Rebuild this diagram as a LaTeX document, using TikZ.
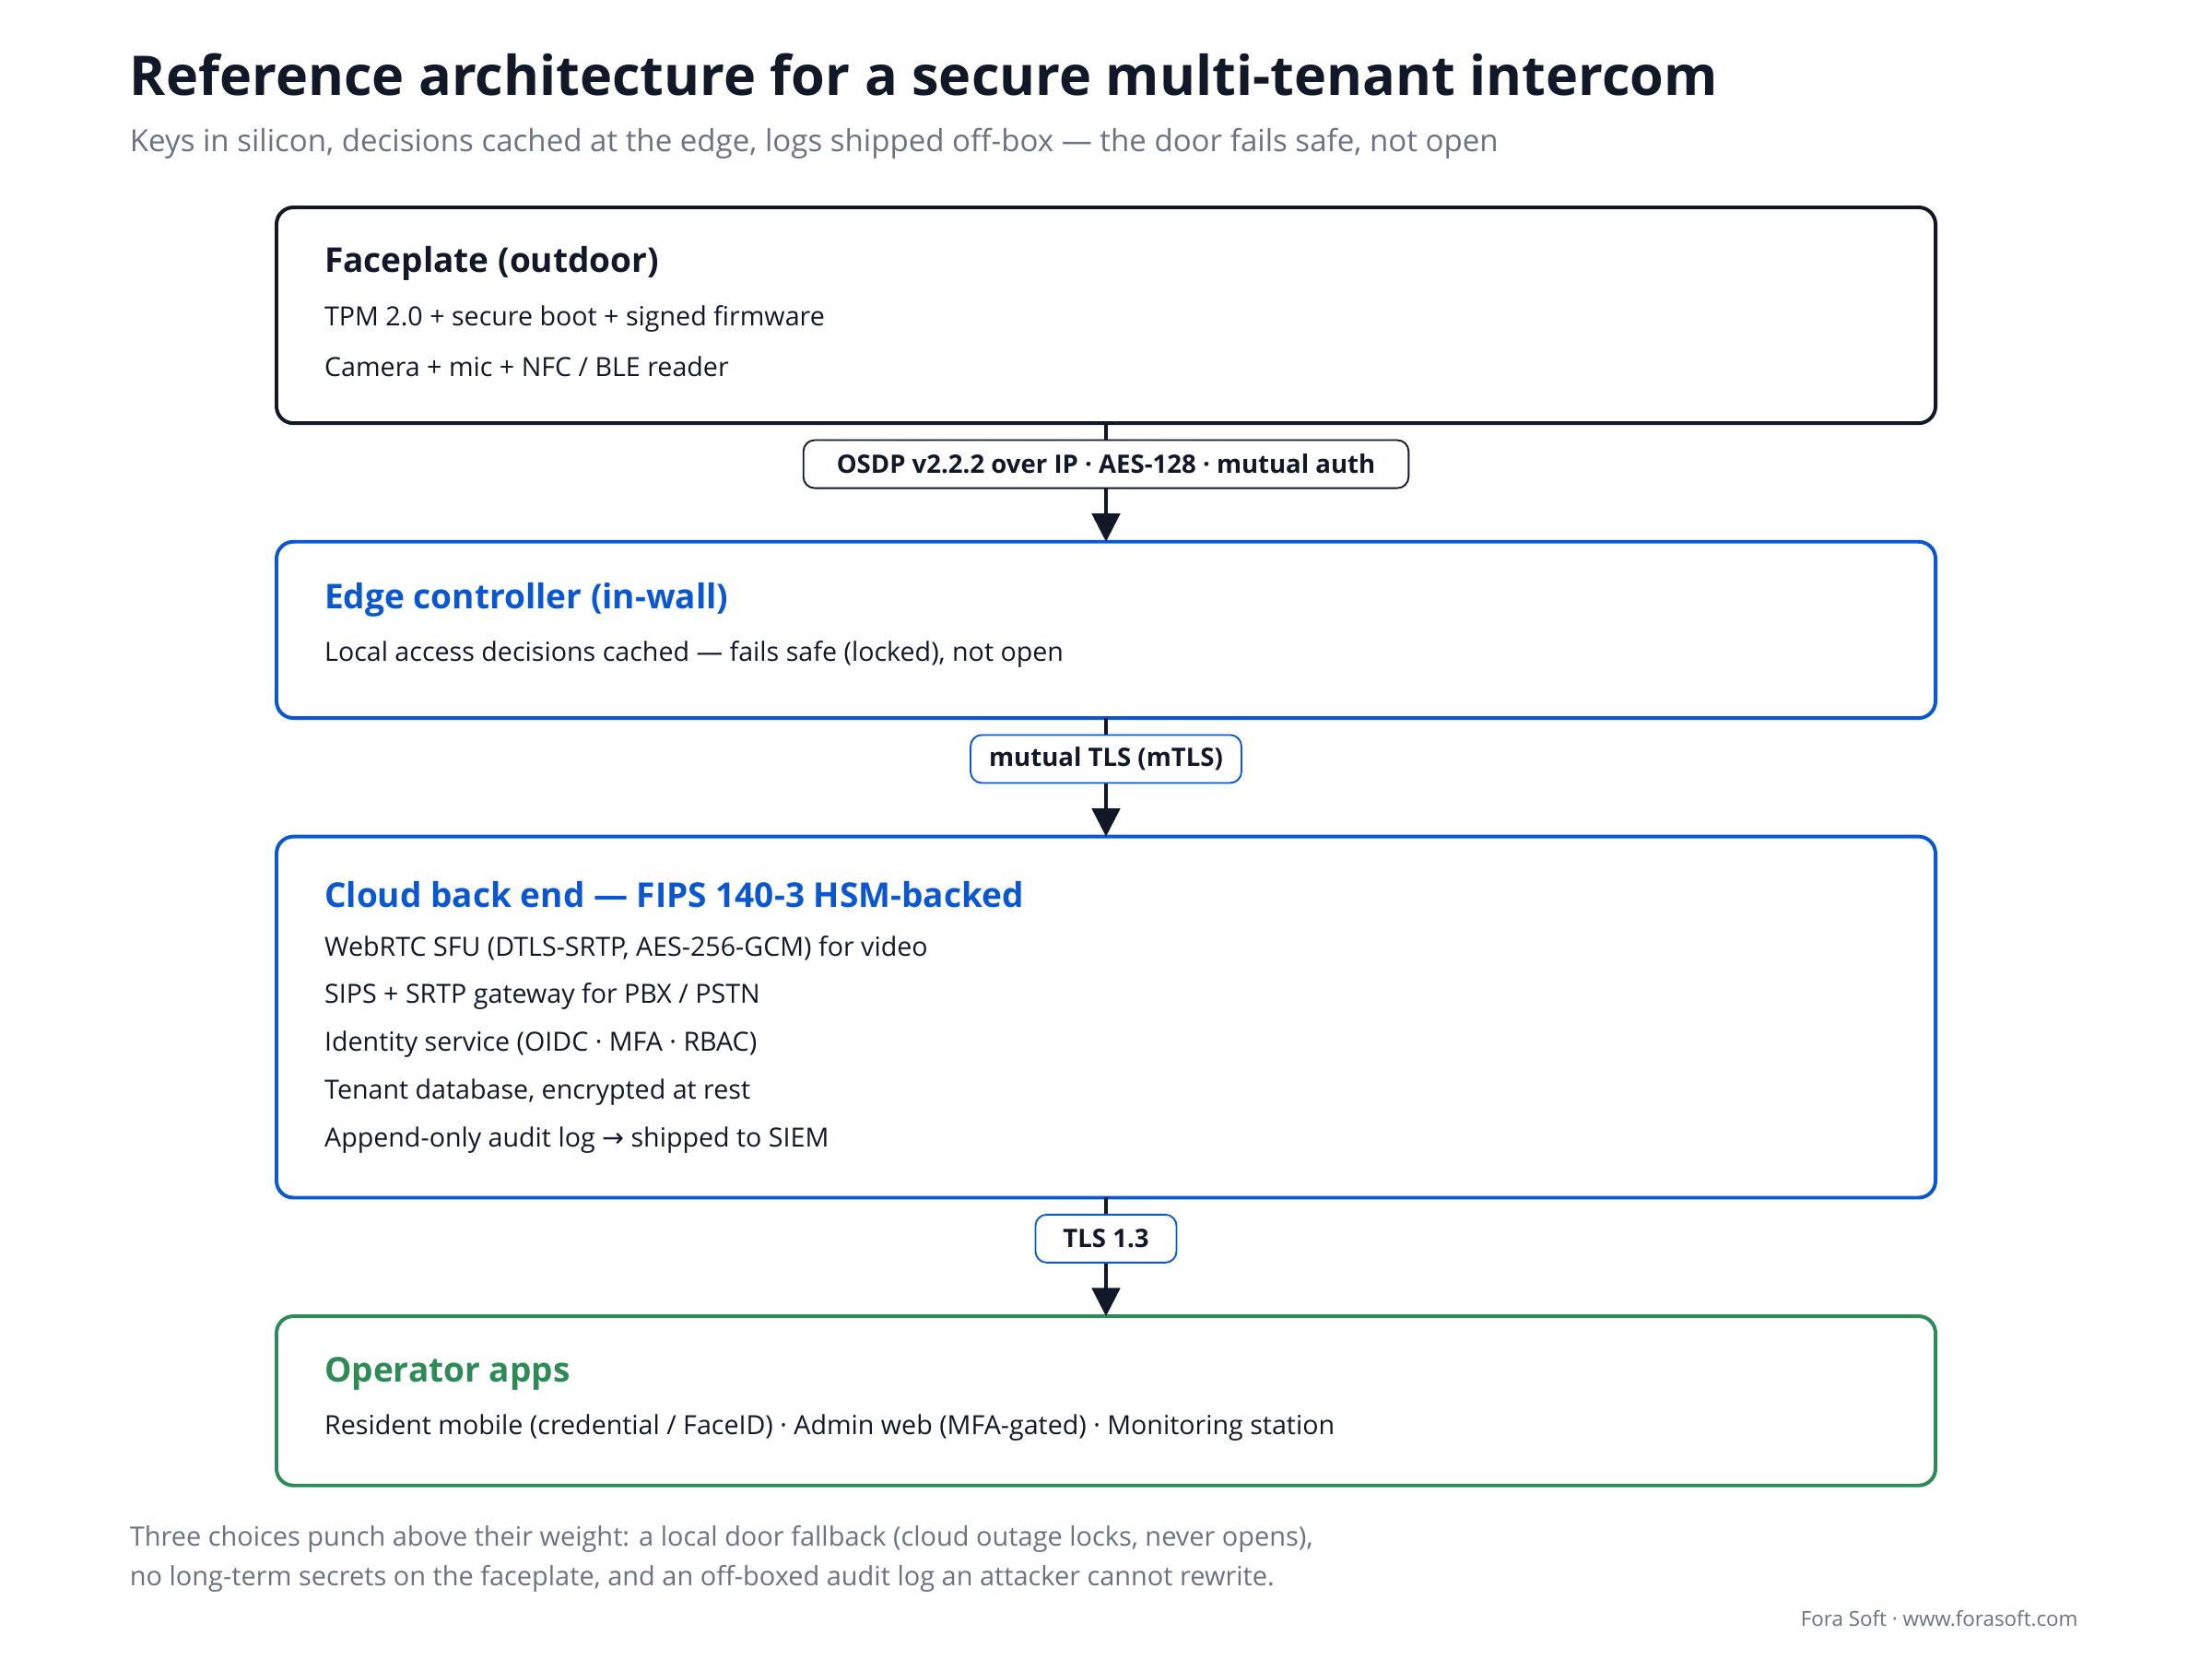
\documentclass[tikz,border=0pt]{standalone}
\usepackage{fontspec}
\setmainfont{Open Sans}
\newfontfamily\arrowfont{DejaVu Sans}
\usetikzlibrary{arrows.meta}
\definecolor{ink}{HTML}{111827}
\definecolor{blu}{HTML}{0B57D0}
\definecolor{grn}{HTML}{2E8B57}
\definecolor{gry}{HTML}{6B7280}
\begin{document}
\begin{tikzpicture}[x=0.5pt,y=-0.5pt,
  box/.style={draw,line width=1.3pt,rounded corners=6pt},
  lab/.style={draw,line width=0.6pt,rounded corners=4pt,fill=white,font=\fontsize{9}{11}\selectfont\bfseries,text=ink,inner sep=0pt,minimum height=17pt},
  ttl/.style={anchor=west,font=\fontsize{12.1}{14}\selectfont\bfseries},
  txt/.style={anchor=west,font=\fontsize{9.35}{11}\selectfont,text=ink},
  note/.style={anchor=west,font=\fontsize{9.45}{11}\selectfont,text=gry},
  arr/.style={draw=ink,line width=1pt,-{Triangle[length=10pt,width=10pt]}}]
\useasboundingbox (0,0) rectangle (1568,1176);
\fill[white] (0,0) rectangle (1568,1176);
\node[anchor=west,font=\fontsize{19.4}{24}\selectfont\bfseries,text=ink] (title) at (85,53) {Reference architecture for a secure multi-tenant intercom};
\node[anchor=west,font=\fontsize{10.8}{13}\selectfont,text=gry] (sub) at (85,102) {Keys in silicon, decisions cached at the edge, logs shipped off-box — the door fails safe, not open};
\draw[box,draw=ink] (196,147) rectangle (1372,300);
\draw[box,draw=blu] (196,384) rectangle (1372,509);
\draw[box,draw=blu] (196,593) rectangle (1372,849);
\draw[box,draw=grn] (196,933) rectangle (1372,1053);
\coordinate (b1) at (784,300); \coordinate (t2) at (784,384);
\coordinate (b2) at (784,509); \coordinate (t3) at (784,593);
\coordinate (b3) at (784,849); \coordinate (t4) at (784,933);
\draw[arr] (b1) -- (t2);
\draw[arr] (b2) -- (t3);
\draw[arr] (b3) -- (t4);
\node[lab,draw=ink,minimum width=214.5pt] (l1) at (784,329) {OSDP v2.2.2 over IP · AES-128 · mutual auth};
\node[lab,draw=blu,minimum width=96pt] (l2) at (784,538) {mutual TLS (mTLS)};
\node[lab,draw=blu,minimum width=50pt] (l3) at (784,878) {TLS 1.3};
\node[ttl,text=ink] (f0) at (223,187) {Faceplate (outdoor)};
\node[txt] (f1) at (223,226) {TPM 2.0 + secure boot + signed firmware};
\node[txt] (f2) at (223,260) {Camera + mic + NFC / BLE reader};
\node[ttl,text=blu] (e0) at (223,425) {Edge controller (in-wall)};
\node[txt] (e1) at (223,464) {Local access decisions cached — fails safe (locked), not open};
\node[ttl,text=blu] (c0) at (223,634) {Cloud back end — FIPS 140-3 HSM-backed};
\node[txt] (c1) at (223,672) {WebRTC SFU (DTLS-SRTP, AES-256-GCM) for video};
\node[txt] (c2) at (223,706) {SIPS + SRTP gateway for PBX / PSTN};
\node[txt] (c3) at (223,740) {Identity service (OIDC · MFA · RBAC)};
\node[txt] (c4) at (223,774) {Tenant database, encrypted at rest};
\node[txt] (c5) at (223,808) {Append-only audit log {\arrowfont →} shipped to SIEM};
\node[ttl,text=grn] (o0) at (223,974) {Operator apps};
\node[txt] (o1) at (223,1012) {Resident mobile (credential / FaceID) · Admin web (MFA-gated) · Monitoring station};
\node[note] (n1) at (85,1091) {Three choices punch above their weight: a local door fallback (cloud outage locks, never opens),};
\node[note] (n2) at (85,1119) {no long-term secrets on the faceplate, and an off-boxed audit log an attacker cannot rewrite.};
\node[anchor=east,font=\fontsize{7.3}{9}\selectfont,text=gry] (cr) at (1480,1147) {Fora Soft · www.forasoft.com};
\end{tikzpicture}
\end{document}
